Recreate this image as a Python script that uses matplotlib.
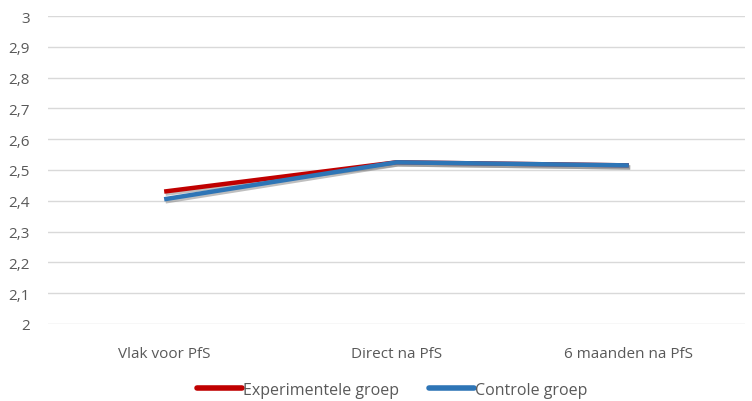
import matplotlib.pyplot as plt
import matplotlib.patheffects as pe
from matplotlib.ticker import FuncFormatter

categories = ["Vlak voor PfS", "Direct na PfS", "6 maanden na PfS"]
experimentele = [2.43, 2.525, 2.515]
controle = [2.405, 2.525, 2.515]

plt.rcParams['font.family'] = ['Open Sans', 'DejaVu Sans']

fig = plt.figure(figsize=(7.52, 4.02), dpi=100)
ax = fig.add_axes([48 / 752, 1 - 325 / 402, 697 / 752, 308 / 402])

shadow = [pe.SimpleLineShadow(offset=(1, -1.5), shadow_color='grey', alpha=0.5), pe.Normal()]
x = range(len(categories))
ax.plot(x, experimentele, color='#C00000', lw=3.2, solid_capstyle='butt',
        label="Experimentele groep", path_effects=shadow, zorder=3)
ax.plot(x, controle, color='#2E75B6', lw=3.2, solid_capstyle='butt',
        label="Controle groep", path_effects=shadow, zorder=4)

ax.set_xlim(-0.5, 2.5)
ax.set_ylim(2, 3)
ax.set_yticks([2 + i / 10 for i in range(11)])
ax.yaxis.set_major_formatter(FuncFormatter(lambda v, p: ('%g' % round(v, 1)).replace('.', ',')))
ax.set_xticks(list(x))
ax.set_xticklabels(categories)
ax.grid(axis='y', color='#D9D9D9', lw=1)
ax.set_axisbelow(True)
for s in ax.spines.values():
    s.set_visible(False)
ax.tick_params(axis='both', length=0, colors='#595959', labelsize=11)
ax.tick_params(axis='y', pad=13)
ax.tick_params(axis='x', pad=16)

leg = fig.legend(loc='center', bbox_to_anchor=(392 / 752, 1 - 391 / 402), ncol=2, frameon=False,
                 fontsize=11.5, handlelength=2.8, handletextpad=0.05, columnspacing=1.9)
for t in leg.get_texts():
    t.set_color('#595959')
for h in leg.legend_handles:
    h.set_linewidth(4)
    h.set_solid_capstyle('round')
    h.set_path_effects([])

fig.savefig("out.png", dpi=100)
